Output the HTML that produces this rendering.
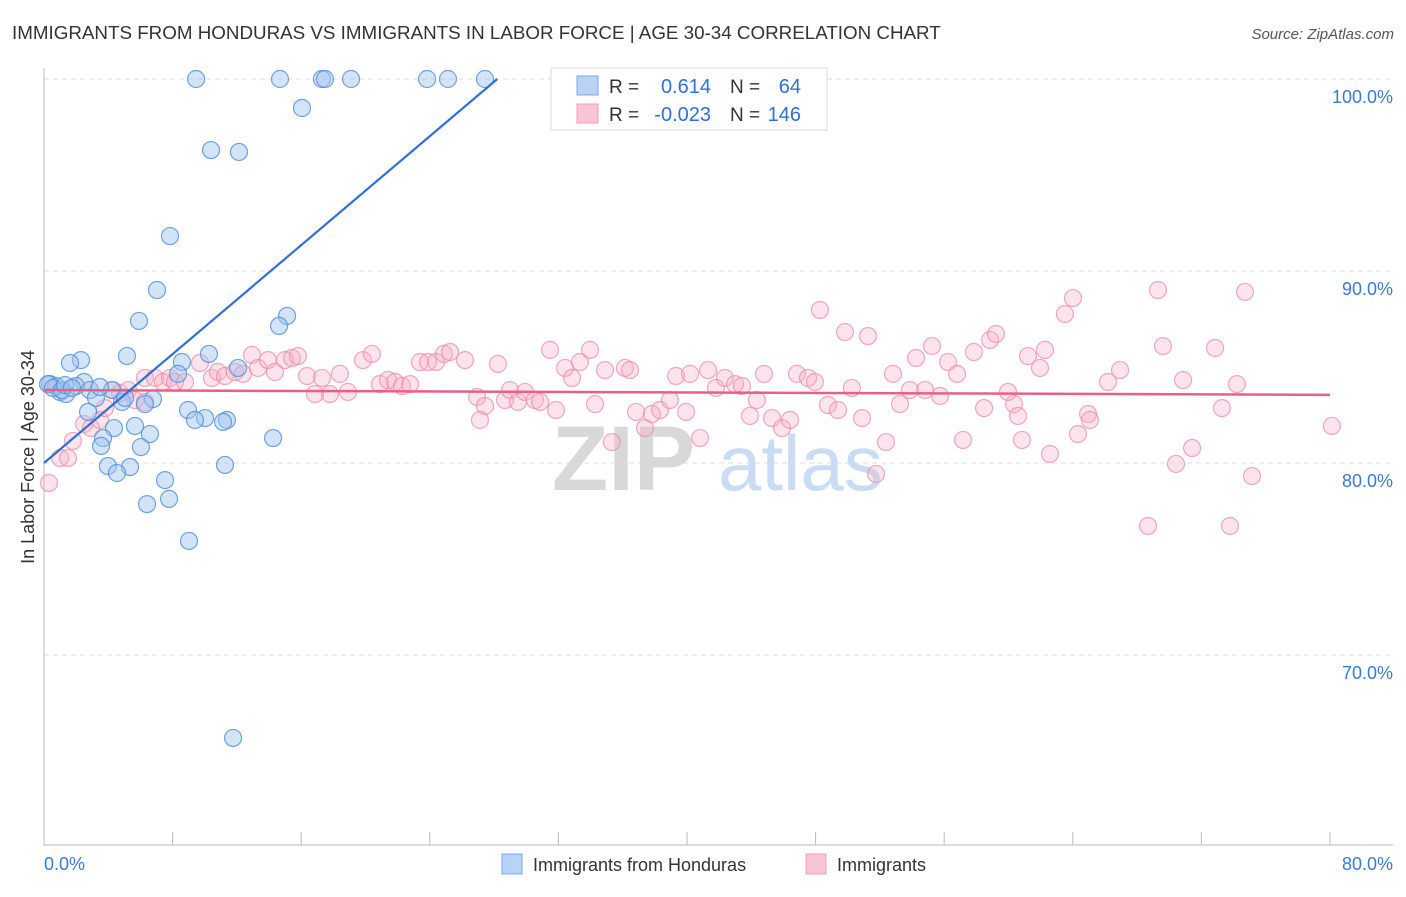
<!DOCTYPE html>
<html><head><meta charset="utf-8"><style>
body{margin:0;background:#fff;font-family:"Liberation Sans",sans-serif;}
svg text{font-family:"Liberation Sans",sans-serif;}
</style></head><body>
<svg id="chart" width="1406" height="892" xmlns="http://www.w3.org/2000/svg">
<text x="12" y="39" font-size="18.8" fill="#333">IMMIGRANTS FROM HONDURAS VS IMMIGRANTS IN LABOR FORCE | AGE 30-34 CORRELATION CHART</text>
<text x="1394" y="39" font-size="15" fill="#555" text-anchor="end" font-style="italic">Source: ZipAtlas.com</text>
<text x="552" y="490" font-size="92" fill="#d8d8d8" font-family="Liberation Serif" font-weight="bold">ZIP</text>
<text x="718" y="490" font-size="78" fill="#c9dcf3">atlas</text>
<g id="grid"></g>
<g id="axes"></g>
<g id="pinkpts"></g>
<g id="bluepts"></g>
<g id="lines"></g>
<text transform="translate(34,457) rotate(-90)" font-size="18" fill="#333" text-anchor="middle">In Labor Force | Age 30-34</text>
<g>
<rect x="551" y="68" width="276" height="62" fill="#fff" stroke="#ddd"/>
<rect x="577" y="76" width="21" height="19" fill="#b8d3f5" stroke="#7aa8e6"/>
<rect x="577" y="104" width="21" height="19" fill="#f9c5d5" stroke="#f0a0b8"/>
<text x="609" y="93" font-size="19" fill="#333">R =</text>
<text x="711" y="93" font-size="20" fill="#2f6fd6" text-anchor="end">0.614</text>
<text x="730" y="93" font-size="19" fill="#333">N =</text>
<text x="801" y="93" font-size="20" fill="#2f6fd6" text-anchor="end">64</text>
<text x="609" y="121" font-size="19" fill="#333">R =</text>
<text x="711" y="121" font-size="20" fill="#2f6fd6" text-anchor="end">-0.023</text>
<text x="730" y="121" font-size="19" fill="#333">N =</text>
<text x="801" y="121" font-size="20" fill="#2f6fd6" text-anchor="end">146</text>
</g>
<g>
<rect x="502" y="854" width="20" height="20" fill="#b8d3f5" stroke="#7aa8e6"/>
<text x="533" y="871" font-size="18" fill="#333">Immigrants from Honduras</text>
</g>
<g>
<rect x="806" y="854" width="20" height="20" fill="#f9c5d5" stroke="#f0a0b8"/>
<text x="837" y="871" font-size="18" fill="#333">Immigrants</text>
</g>
</svg>
<script>
const xTicks=[0,8,16,24,32,40,48,56,64,72,80];
const yTicks=[100,90,80,70];
const yTickLabels=["100.0%","90.0%","80.0%","70.0%"];
const xEndLabels=["0.0%","80.0%"];
const blueX=[9.46,14.68,17.29,17.48,19.10,23.83,25.13,27.43,16.05,10.39,12.13,7.84,7.03,5.91,15.12,14.62,5.16,10.26,8.58,12.07,2.30,1.62,8.34,2.49,0.37,0.75,1.00,1.37,1.99,2.86,4.23,3.23,4.85,6.78,6.28,8.96,10.02,9.39,11.38,11.14,2.74,4.35,5.66,6.59,3.67,3.55,6.03,14.25,3.98,5.35,4.54,7.53,11.26,6.41,7.78,9.02,11.76,0.25,0.56,1.12,1.31,1.74,3.48,5.04];
const blueY=[100,100,100,100,100,100,100,100,98.49,96.30,96.20,91.82,89.01,87.40,87.66,87.14,85.57,85.68,85.26,84.95,85.36,85.21,84.64,84.22,84.11,84.01,83.70,83.59,84.01,83.80,83.80,83.39,83.18,83.33,83.07,82.76,82.34,82.24,82.24,82.14,82.66,81.82,81.93,81.51,81.30,80.89,80.83,81.30,79.84,79.79,79.48,79.11,79.90,77.86,78.13,75.94,65.68,84.11,83.91,83.80,84.06,83.91,83.96,83.39];
const pinkX=[0.31,1.00,1.49,1.80,2.49,2.92,3.48,3.79,4.29,4.73,5.23,5.66,6.28,6.28,6.91,7.40,7.84,8.15,8.77,9.70,10.45,10.82,11.26,11.88,12.38,12.94,13.31,13.93,14.37,14.99,15.43,15.80,16.36,16.86,17.29,17.79,18.41,18.91,19.84,20.40,20.90,21.40,21.84,22.27,22.77,23.39,23.89,24.39,24.88,25.26,26.19,26.94,27.43,27.12,28.24,28.68,28.99,29.49,29.92,30.54,30.86,31.48,31.85,32.41,32.85,33.34,33.97,34.28,34.90,35.33,36.14,36.45,36.83,37.39,37.82,38.32,38.94,39.32,39.94,40.81,40.19,41.31,41.80,42.36,42.99,43.42,43.92,44.35,44.79,45.29,45.91,46.41,46.84,47.53,47.96,48.27,48.77,49.39,49.83,50.26,50.89,51.26,51.76,52.38,52.81,53.25,53.87,54.25,54.81,55.24,55.74,56.24,56.80,57.17,57.85,58.48,58.85,59.22,60.34,60.59,59.97,60.84,61.21,61.96,62.27,62.58,63.51,64.01,64.32,64.95,65.07,66.19,66.94,68.68,69.30,69.61,70.42,70.86,71.42,72.85,73.28,73.78,74.21,74.71,75.15,80.12];
const pinkY=[78.96,80.26,80.26,81.15,82.03,81.82,82.24,82.86,83.80,83.65,83.80,83.28,84.43,83.18,84.43,84.22,84.43,84.22,84.22,85.21,84.43,84.74,84.53,84.74,84.64,85.63,84.95,85.36,84.74,85.36,85.47,85.57,84.53,83.59,84.43,83.59,84.64,83.70,85.36,85.68,84.11,84.32,84.22,84.01,84.11,85.26,85.26,85.26,85.68,85.78,85.36,83.44,82.97,82.24,85.16,83.28,83.80,83.18,83.70,83.28,83.18,85.89,82.76,84.95,84.43,85.26,85.89,83.07,84.84,81.09,84.95,84.84,82.66,81.82,82.55,82.76,83.28,84.53,82.66,81.30,84.64,84.84,83.91,84.43,84.11,84.01,82.45,83.28,84.64,82.34,81.82,82.24,84.64,84.43,84.22,87.97,83.02,82.76,86.82,83.91,82.34,86.61,79.43,81.09,84.64,83.07,83.80,85.47,83.80,86.09,83.49,85.26,84.64,81.20,85.78,82.86,86.41,86.72,83.07,82.45,83.70,81.20,85.57,84.95,85.89,80.47,87.76,88.59,81.51,82.55,82.24,84.22,84.84,76.72,89.01,86.09,79.95,84.32,80.78,85.99,82.86,76.72,84.11,88.91,79.32,81.93];
const blueTrend=[0,80.0,28.2,100];
const pinkTrend=[0,83.8,80,83.55];

const NS="http://www.w3.org/2000/svg";
const X=v=>44+v/80*1286;
const Y=v=>79+(100-v)*19.2;
function mk(tag,attrs,parent){const e=document.createElementNS(NS,tag);for(const k in attrs)e.setAttribute(k,attrs[k]);parent.appendChild(e);return e;}
const grid=document.getElementById('grid'),axes=document.getElementById('axes');
yTicks.forEach((t,i)=>{
  const l=mk('line',{x1:44,x2:1393,y1:Y(t),y2:Y(t),stroke:'#ddd','stroke-dasharray':'5,4'},grid);
  
  
  const tx=mk('text',{x:1393,y:Y(t)+24,'font-size':18,fill:'#3b78d8','text-anchor':'end'},grid);
  tx.textContent=yTickLabels[i];
  
  
});
const ax=mk('line',{x1:44,x2:44,y1:68,y2:845,stroke:'#bbb'},axes);


const bx=mk('line',{x1:44,x2:1393,y1:845,y2:845,stroke:'#bbb'},axes);


xTicks.forEach(t=>{
  const l=mk('line',{x1:X(t),x2:X(t),y1:832,y2:845,stroke:'#bbb'},axes);
  
  
});
[[0,'start'],[80,'end']].forEach((p,i)=>{
  const tx=mk('text',{x:i?1393:44,y:870,'font-size':18,fill:'#3b78d8','text-anchor':p[1]},axes);
  tx.textContent=xEndLabels[i];
  
  
});
const pg=document.getElementById('pinkpts');
pinkX.forEach((v,i)=>{
  const c=mk('circle',{cx:X(v),cy:Y(pinkY[i]),r:8.5,fill:'rgba(248,175,198,0.35)',stroke:'rgba(236,140,170,0.75)','stroke-width':1.2},pg);
  
  
});
const bg=document.getElementById('bluepts');
blueX.forEach((v,i)=>{
  const c=mk('circle',{cx:X(v),cy:Y(blueY[i]),r:8.5,fill:'rgba(160,196,240,0.45)',stroke:'rgba(80,140,220,0.8)','stroke-width':1.2},bg);
  
  
});
const lg=document.getElementById('lines');
const pl=mk('line',{x1:X(pinkTrend[0]),y1:Y(pinkTrend[1]),x2:X(pinkTrend[2]),y2:Y(pinkTrend[3]),stroke:'#e8608a','stroke-width':2.5},lg);


const bl=mk('line',{x1:X(blueTrend[0]),y1:Y(blueTrend[1]),x2:X(blueTrend[2]),y2:Y(blueTrend[3]),stroke:'#2f6fd6','stroke-width':2.2},lg);


</script>
</body></html>
